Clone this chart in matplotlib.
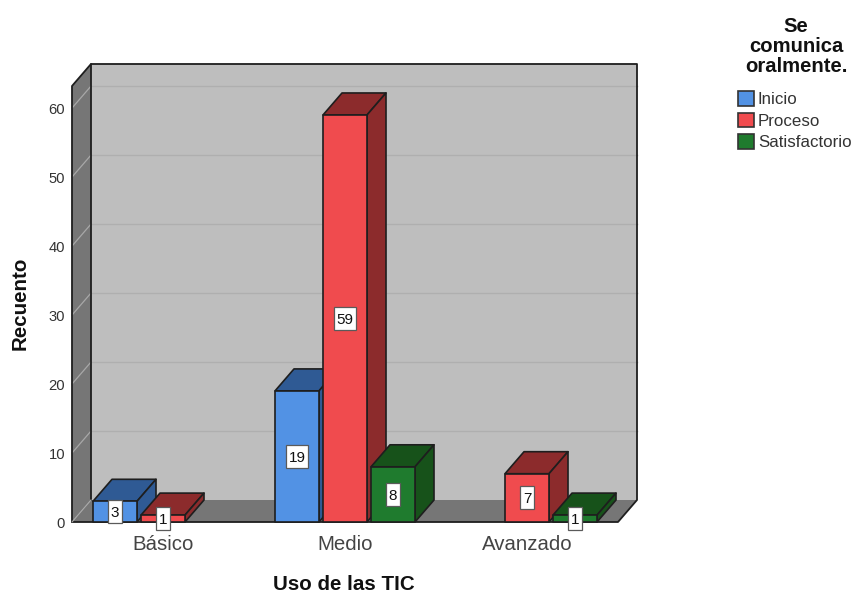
import matplotlib
matplotlib.use("Agg")
import matplotlib.pyplot as plt
from matplotlib.patches import Polygon, Patch, Rectangle

plt.rcParams['font.family'] = ['Liberation Sans', 'DejaVu Sans']

categories = ['Básico', 'Medio', 'Avanzado']
series_names = ['Inicio', 'Proceso', 'Satisfactorio']
inicio = [3, 19, 0]
proceso = [1, 59, 7]
satisfactorio = [0, 8, 1]
y_ticks = [0, 10, 20, 30, 40, 50, 60]
y_top = 63.2

front_colors = ['#5292E4', '#F04B4E', '#1F7B2E']
dark_colors = ['#2F5A94', '#8C2B2C', '#17521A']
WALL = '#BEBEBE'
SIDE = '#767676'
GRID = '#AFAFAF'
EDGE = '#1E1E1E'
W, H = 854, 592

fig = plt.figure(figsize=(W / 100, H / 100), dpi=100)
left, right, bottom, top = 72, 618, 522, 86
ax = fig.add_axes([left / W, 1 - bottom / H, (right - left) / W, (bottom - top) / H])
ax.set_xlim(-0.5, 2.5)
ax.set_ylim(0, y_top)
for s in ax.spines.values():
    s.set_visible(False)

px_x = 3 / (right - left)
px_y = y_top / (bottom - top)
dx, dy = 19 * px_x, 22 * px_y
bar_w = 44 * px_x
step = 48 * px_x


def poly(pts, fc, ec='none', lw=0.0, z=1):
    ax.add_patch(Polygon(pts, closed=True, facecolor=fc, edgecolor=ec, linewidth=lw,
                         zorder=z, clip_on=False, joinstyle='round'))


x0, x1 = -0.5, 2.5
poly([(x0 + dx, dy), (x1 + dx, dy), (x1 + dx, y_top + dy), (x0 + dx, y_top + dy)], WALL, z=1)
poly([(x0, 0), (x0 + dx, dy), (x0 + dx, y_top + dy), (x0, y_top)], SIDE, z=1)
poly([(x0, 0), (x1, 0), (x1 + dx, dy), (x0 + dx, dy)], SIDE, z=1)
for t in y_ticks[1:]:
    ax.plot([x0 + dx, x1 + dx], [t + dy, t + dy], color=GRID, lw=1.0, zorder=2, clip_on=False)
    ax.plot([x0, x0 + dx], [t, t + dy], color='#A8A8A8', lw=0.9, zorder=2, clip_on=False)

outline = dict(color=EDGE, lw=1.3, zorder=3, clip_on=False, solid_capstyle='round')
ax.plot([x0, x0, x0 + dx, x1 + dx, x1 + dx, x1, x0],
        [0, y_top, y_top + dy, y_top + dy, dy, 0, 0], **outline)
ax.plot([x0 + dx, x0 + dx], [dy, y_top + dy], **outline)
ax.plot([x0, x0 + dx], [0, dy], color='#A8A8A8', lw=0.8, zorder=3.5, clip_on=False)

z = 4
all_series = [inicio, proceso, satisfactorio]
for c in range(len(categories)):
    for s, values in enumerate(all_series):
        v = values[c]
        if v == 0:
            continue
        xa = c + (s - 1) * step - bar_w / 2
        xb = xa + bar_w
        poly([(xa, v), (xa + dx, v + dy), (xb + dx, v + dy), (xb, v)], dark_colors[s], EDGE, 1.2, z)
        poly([(xb, 0), (xb + dx, dy), (xb + dx, v + dy), (xb, v)], dark_colors[s], EDGE, 1.2, z)
        poly([(xa, 0), (xb, 0), (xb, v), (xa, v)], front_colors[s], EDGE, 1.2, z)
        z += 1
        label = str(v)
        box_w = (22 if len(label) > 1 else 14) * px_x
        box_h = 23 * px_y
        xm = (xa + xb) / 2
        ax.add_patch(Rectangle((xm - box_w / 2, v / 2 - box_h / 2), box_w, box_h, facecolor='white',
                               edgecolor='#5A5A5A', linewidth=0.9, zorder=49, clip_on=False))
        ax.text(xm, v / 2, label, ha='center', va='center_baseline', fontsize=11,
                color='#111111', zorder=50)

ax.set_xticks(range(len(categories)))
ax.set_xticklabels(categories, fontsize=14.7, color='#444444')
ax.set_yticks(y_ticks)
ax.set_yticklabels([str(t) for t in y_ticks], fontsize=10.6, color='#333333')
ax.tick_params(axis='both', length=0)
ax.tick_params(axis='x', pad=9)
ax.tick_params(axis='y', pad=5)

fig.text(344 / W, 1 - 584 / H, 'Uso de las TIC', ha='center', va='center', fontsize=14.8,
         fontweight='bold', color='#111111')
fig.text(20.5 / W, 1 - 303 / H, 'Recuento', ha='center', va='center', rotation=90, fontsize=14.8,
         fontweight='bold', color='#111111')

fig.text(796 / W, 1 - 46.5 / H, 'Se\ncomunica\noralmente.', ha='center', va='center', fontsize=14.6,
         fontweight='bold', color='#111111', linespacing=1.08)
handles = [Patch(facecolor=front_colors[i], edgecolor='#333333', linewidth=1.2, label=series_names[i])
           for i in range(3)]
fig.legend(handles=handles, loc='upper left', bbox_to_anchor=(738 / W, 1 - 91 / H), borderaxespad=0,
           borderpad=0, frameon=False, fontsize=12.2, labelcolor='#333333', handlelength=0.95,
           handleheight=0.95, handletextpad=0.22, labelspacing=0.32)

fig.savefig('out.png', dpi=100)
